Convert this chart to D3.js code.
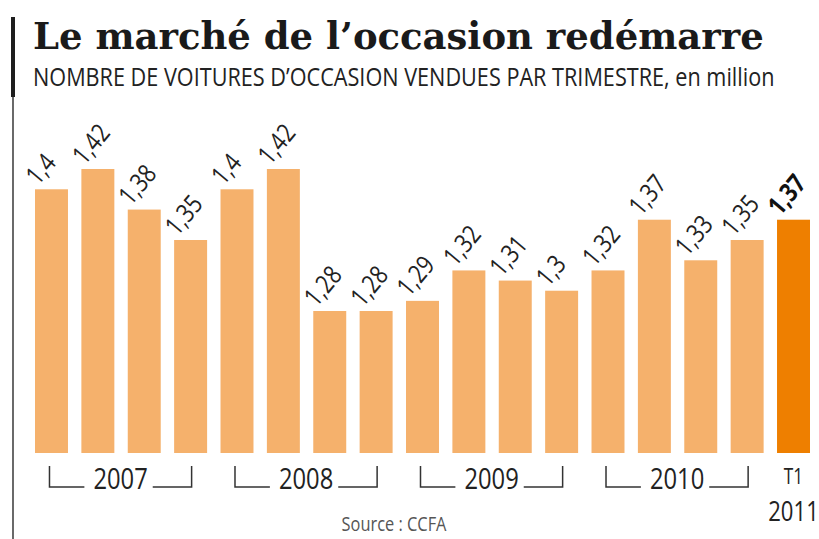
<!DOCTYPE html>
<html>
<head>
<meta charset="utf-8">
<script src="https://cdnjs.cloudflare.com/ajax/libs/d3/7.8.5/d3.min.js"></script>
<style>
    body { margin: 0; background: #fff; }
    #chart-area { width: 819px; height: 539px; }
</style>
</head>
<body>
<div id="chart-area"></div>
<script>

// quarterly sales, millions of used cars
let quarters = ['T1 2007','T2 2007','T3 2007','T4 2007','T1 2008','T2 2008','T3 2008','T4 2008',
    'T1 2009','T2 2009','T3 2009','T4 2009','T1 2010','T2 2010','T3 2010','T4 2010','T1 2011'];
let sales = [1.40, 1.42, 1.38, 1.35, 1.40, 1.42, 1.28, 1.28, 1.29, 1.32, 1.31, 1.30, 1.32, 1.37, 1.33, 1.35, 1.37];
let years = ['2007', '2008', '2009', '2010'];
let lastLabel = ['T1', '2011'];

class UsedCarChart {

    constructor(parentElement) {
        this.parentElement = parentElement;
        this.initVis();
    }

    initVis () {
        let vis = this;
        vis.width = 819;
        vis.height = 539;
        vis.narrow = 0.82;
        vis.toFit = [];

        vis.svg = d3.select("#" + vis.parentElement).append("svg")
            .attr("width", vis.width)
            .attr("height", vis.height);

        // Scales
        vis.x = d3.scaleBand()
            .domain(quarters)
            .range([35, 810])
            .paddingInner(0.289)
            .paddingOuter(0);

        vis.y = d3.scaleLinear()
            .domain([1.14, 1.42])
            .range([453, 169]);

        vis.fmt = d3.formatLocale({decimal: ",", thousands: " ", grouping: [3], currency: ["", " €"]}).format("");

        // left rule
        vis.svg.append("rect")
            .attr("x", 11).attr("y", 17)
            .attr("width", 4).attr("height", 80)
            .attr("fill", "#1e1e1e");
        vis.svg.append("line")
            .attr("x1", 13).attr("x2", 13)
            .attr("y1", 97).attr("y2", vis.height)
            .attr("stroke", "#444")
            .attr("stroke-width", 1.6);

        // titles, squeezed to the reference width
        vis.fitText(33, 49, 731, "Le marché de l’occasion redémarre")
            .attr("font-family", "DejaVu Serif")
            .attr("font-weight", "bold")
            .attr("font-size", 38)
            .attr("fill", "#1a1a1a");

        vis.fitText(33, 86, 742, "NOMBRE DE VOITURES D’OCCASION VENDUES PAR TRIMESTRE, en million")
            .attr("font-family", "Open Sans")
            .attr("font-size", 25)
            .attr("fill", "#222");

        vis.updateVis();
    }

    fitText (x, y, w, str) {
        let t = this.svg.append("text").text(str);
        t.fit = () => {
            let k = w / t.node().getComputedTextLength();
            t.attr("transform", "translate(" + x + "," + y + ") scale(" + k + ",1)");
        };
        this.toFit.push(t);
        return t;
    }

    narrowText (sel, x, y, rotate) {
        let vis = this;
        return sel.append("text")
            .attr("transform", "translate(" + x + "," + y + ")" + (rotate ? " rotate(" + rotate + ")" : "") + " scale(" + vis.narrow + ",1)")
            .attr("font-family", "Open Sans");
    }

    updateVis () {
        let vis = this;
        let bw = vis.x.bandwidth();
        let last = quarters.length - 1;

        vis.toFit.forEach(t => t.fit());

        // bars
        vis.svg.selectAll(".bar")
            .data(sales)
            .enter().append("rect")
            .attr("class", "bar")
            .attr("x", (d, i) => vis.x(quarters[i]))
            .attr("y", d => vis.y(d))
            .attr("width", bw)
            .attr("height", d => vis.y(1.14) - vis.y(d))
            .attr("fill", (d, i) => i === last ? "#ee7f00" : "#f5b16c");

        // value labels
        sales.forEach((d, i) => {
            vis.narrowText(vis.svg, vis.x(quarters[i]) + 3, vis.y(d) - 3, -50)
                .attr("font-size", 26)
                .attr("font-weight", i === last ? "bold" : "normal")
                .attr("fill", i === last ? "#111" : "#222")
                .text(vis.fmt(d));
        });

        // year brackets
        let by = 487, ty = 466;
        years.forEach((yr, k) => {
            let x1 = vis.x(quarters[k * 4]) + bw / 2 - 2;
            let x2 = vis.x(quarters[k * 4 + 3]) + bw / 2 + 1;
            let mid = (x1 + x2) / 2;
            let g = vis.svg.append("g");
            let t = vis.narrowText(g, mid, 489, 0)
                .attr("font-size", 29)
                .attr("fill", "#222")
                .attr("text-anchor", "middle")
                .text(yr);
            let half = t.node().getComputedTextLength() * vis.narrow / 2;
            g.append("path")
                .attr("d", "M" + x1 + "," + ty + "V" + by + "H" + (mid - half - 9))
                .attr("fill", "none").attr("stroke", "#333").attr("stroke-width", 1.5);
            g.append("path")
                .attr("d", "M" + (mid + half + 5) + "," + by + "H" + x2 + "V" + ty)
                .attr("fill", "none").attr("stroke", "#333").attr("stroke-width", 1.5);
        });

        // last quarter label
        let cx = vis.x(quarters[last]) + bw / 2;
        vis.narrowText(vis.svg, cx, 484, 0)
            .attr("font-size", 21).attr("fill", "#222")
            .attr("text-anchor", "middle")
            .text(lastLabel[0]);
        vis.narrowText(vis.svg, cx, 521, 0)
            .attr("font-size", 27).attr("fill", "#222")
            .attr("text-anchor", "middle")
            .text(lastLabel[1]);

        // source
        vis.narrowText(vis.svg, 394, 531, 0)
            .attr("font-size", 20).attr("fill", "#555")
            .attr("text-anchor", "middle")
            .text("Source : CCFA");
    }
}

new UsedCarChart("chart-area");
</script>
</body>
</html>
